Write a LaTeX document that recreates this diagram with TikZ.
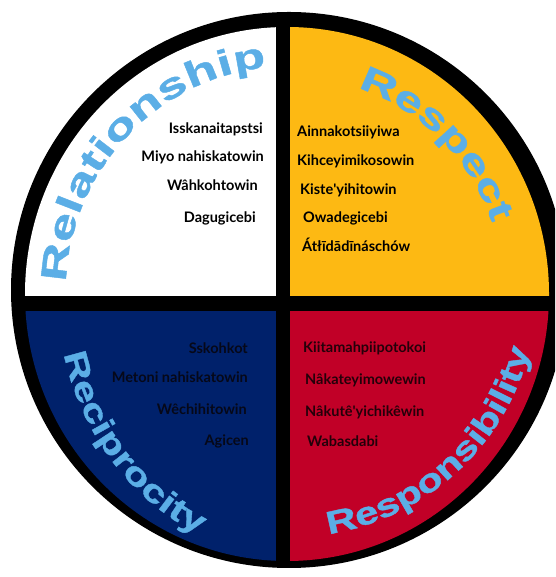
\documentclass[tikz,border=0pt]{standalone}
\usepackage{fontspec}
\usetikzlibrary{decorations.text}
\newfontfamily\wordfont{Lato}
\newfontfamily\arcfont[UprightFont={* Bold}, FakeStretch=1.45, FakeBold=1.2]{Liberation Sans}
\newfontfamily\arcfontb[UprightFont={* Bold}, FakeStretch=1.32, FakeBold=1.2]{Liberation Sans}
\definecolor{wheelorange}{HTML}{FDB913}
\definecolor{wheelblue}{HTML}{00216B}
\definecolor{wheelred}{HTML}{C10027}
\definecolor{arcblue}{HTML}{5BAEE6}
\definecolor{bltext}{HTML}{060818}
\definecolor{brtext}{HTML}{24000A}
\begin{document}
\begin{tikzpicture}[x=1pt,y=1pt,
  word/.style={font=\wordfont\bfseries\fontsize{14.5}{16}\selectfont, inner sep=0pt},
  tlword/.style={word, anchor=base east, text=black},
  trword/.style={word, anchor=base west, text=black},
  blword/.style={word, anchor=base east, text=bltext},
  brword/.style={word, anchor=base west, text=brtext},
  arcword/.style={decorate, decoration={text along path, text align={fit to path}, text color=arcblue}}]
\useasboundingbox (0,0) rectangle (555,577);
\clip (0,0) rectangle (555,577);
\fill[black] (289,287) circle[radius=278];
\begin{scope}
  \clip (287,283) ellipse[x radius=262, y radius=267];
  \fill[white] (0,281) rectangle (276,577);
  \fill[wheelorange] (290,281) rectangle (555,577);
  \fill[wheelblue] (0,0) rectangle (276,266);
  \fill[wheelred] (290,0) rectangle (555,266);
\end{scope}
% curved titles
\path[arcword, decoration={text={|\arcfont\fontsize{36}{36}\selectfont|Relationship}}]
  ([shift={(178:224)}]290,287) arc[start angle=178, end angle=96, radius=224];
\path[arcword, decoration={text={|\arcfont\fontsize{35}{35}\selectfont|Respect}}]
  ([shift={(71.5:213)}]290,287) arc[start angle=71.5, end angle=19.5, radius=213];
\path[arcword, decoration={text={|\arcfontb\fontsize{32}{32}\selectfont|Reciprocity}}]
  ([shift={(194:233 and 265)}]290,287) arc[start angle=194, end angle=247, x radius=233, y radius=265];
\path[arcword, decoration={text={|\arcfontb\fontsize{32}{32}\selectfont|Responsibility}}]
  ([shift={(279:247)}]290,287) arc[start angle=279, end angle=346, radius=247];
% top-left words
\node[tlword] (tl1) at (263,443) {Isskanaitapstsi};
\node[tlword] (tl2) at (264,415) {Miyo nahiskatowin};
\node[tlword] (tl3) at (258,386) {Wâhkohtowin};
\node[tlword] (tl4) at (256,354) {Dagugicebi};
% top-right words
\node[trword] (tr1) at (297,440) {Ainnakotsiiyiwa};
\node[trword] (tr2) at (297,411) {Kihceyimikosowin};
\node[trword] (tr3) at (300,382) {Kiste\textquotesingle yihitowin};
\node[trword] (tr4) at (303,354) {Owadegicebi};
\node[trword] (tr5) at (302,325) {Átłīdādīnáschów};
% bottom-left words
\node[blword] (bl1) at (248,223) {Sskohkot};
\node[blword] (bl2) at (248,194) {Metoni nahiskatowin};
\node[blword] (bl3) at (247,162) {Wêchihitowin};
\node[blword] (bl4) at (249,131) {Agicen};
% bottom-right words
\node[brword] (br1) at (303,224) {Kiitamahpiipotokoi};
\node[brword] (br2) at (305,192) {Nâkateyimowewin};
\node[brword] (br3) at (305,160) {Nâkutê\textquotesingle yichikêwin};
\node[brword] (br4) at (307,130) {Wabasdabi};
\end{tikzpicture}
\end{document}
